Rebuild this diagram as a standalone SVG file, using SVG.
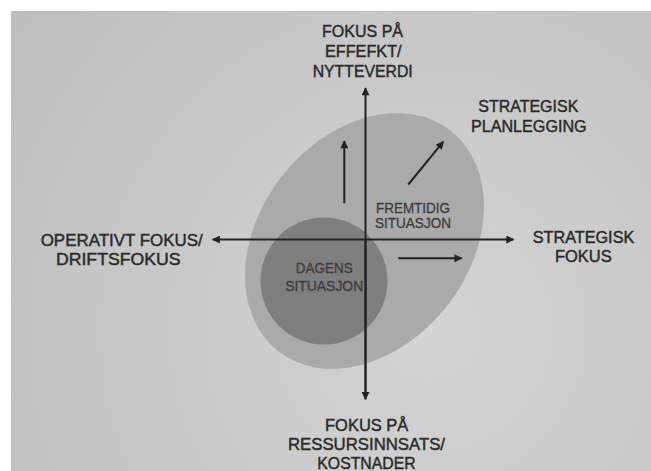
<svg xmlns="http://www.w3.org/2000/svg" width="651" height="471" viewBox="0 0 651 471">
  <style>
    .lbl { font-family: "Liberation Sans", Arial, sans-serif; font-size: 17px; fill: #2a2a2a; stroke: #2a2a2a; stroke-width: 0.45; text-anchor: middle; }
    .sm { font-family: "Liberation Sans", Arial, sans-serif; font-size: 14px; fill: #3c3c3c; stroke: #3c3c3c; stroke-width: 0.3; text-anchor: middle; }
    .ax { stroke: #222; stroke-width: 2; fill: none; }
  </style>
  <defs>
    <radialGradient id="bg" cx="430" cy="330" r="560" gradientUnits="userSpaceOnUse">
      <stop offset="0" stop-color="#d4d4d4"/>
      <stop offset="1" stop-color="#bcbcbc"/>
    </radialGradient>
    <marker id="ah" viewBox="0 0 10 10" refX="9" refY="5" markerWidth="9" markerHeight="8" markerUnits="userSpaceOnUse" orient="auto">
      <path d="M0,0 L10,5 L0,10 Z" fill="#222"/>
    </marker>
  </defs>
  <rect x="0" y="0" width="651" height="471" fill="#ffffff"/>
  <rect x="11" y="11" width="640" height="460" fill="url(#bg)"/>

  <g id="fremtidig">
    <ellipse cx="364.5" cy="241" rx="140" ry="105" transform="rotate(-52 364.5 241)" fill="#aaaaaa"/>
    <text class="sm" x="413" y="212.7" textLength="74" lengthAdjust="spacingAndGlyphs">FREMTIDIG</text>
    <text class="sm" x="413" y="228" textLength="76" lengthAdjust="spacingAndGlyphs">SITUASJON</text>
  </g>
  <g id="dagens">
    <circle cx="324" cy="281" r="63.5" fill="#7e7e7e"/>
    <text class="sm" x="324.2" y="273.3" textLength="57" lengthAdjust="spacingAndGlyphs">DAGENS</text>
    <text class="sm" x="324.2" y="291" textLength="78" lengthAdjust="spacingAndGlyphs">SITUASJON</text>
  </g>

  <g id="connectors">
    <line class="ax" x1="365.5" y1="399" x2="365.5" y2="88" marker-end="url(#ah)"/>
    <line class="ax" x1="365.5" y1="239.5" x2="365.5" y2="399.3" marker-end="url(#ah)"/>
    <line class="ax" x1="365.5" y1="239.5" x2="513.5" y2="239.5" marker-end="url(#ah)"/>
    <line class="ax" x1="365.5" y1="239.5" x2="212.7" y2="239.5" marker-end="url(#ah)"/>
    <line class="ax" x1="344.3" y1="203.3" x2="344.3" y2="141" marker-end="url(#ah)"/>
    <line class="ax" x1="408.3" y1="184.5" x2="443.3" y2="141.7" marker-end="url(#ah)"/>
    <line class="ax" x1="398.3" y1="258.3" x2="461.7" y2="258.3" marker-end="url(#ah)"/>
  </g>

  <g id="top-label">
    <text class="lbl" x="362.5" y="36.5" textLength="81" lengthAdjust="spacingAndGlyphs">FOKUS PÅ</text>
    <text class="lbl" x="363.3" y="56.7" textLength="76.7" lengthAdjust="spacingAndGlyphs">EFFEFKT/</text>
    <text class="lbl" x="362.7" y="76.7" textLength="100" lengthAdjust="spacingAndGlyphs">NYTTEVERDI</text>
  </g>
  <g id="strategisk-planlegging">
    <text class="lbl" x="528.3" y="112.3" textLength="100" lengthAdjust="spacingAndGlyphs">STRATEGISK</text>
    <text class="lbl" x="528.8" y="131.7" textLength="115.7" lengthAdjust="spacingAndGlyphs">PLANLEGGING</text>
  </g>
  <g id="left-label">
    <text class="lbl" x="121.7" y="245.7" textLength="162" lengthAdjust="spacingAndGlyphs">OPERATIVT FOKUS/</text>
    <text class="lbl" x="118.3" y="265" textLength="124.7" lengthAdjust="spacingAndGlyphs">DRIFTSFOKUS</text>
  </g>
  <g id="right-label">
    <text class="lbl" x="583.5" y="242.7" textLength="101.6" lengthAdjust="spacingAndGlyphs">STRATEGISK</text>
    <text class="lbl" x="583.3" y="261.7" textLength="56.7" lengthAdjust="spacingAndGlyphs">FOKUS</text>
  </g>
  <g id="bottom-label">
    <text class="lbl" x="366.7" y="430.5" textLength="83.3" lengthAdjust="spacingAndGlyphs">FOKUS PÅ</text>
    <text class="lbl" x="366.5" y="450" textLength="157" lengthAdjust="spacingAndGlyphs">RESSURSINNSATS/</text>
    <text class="lbl" x="366.5" y="468.5" textLength="98.4" lengthAdjust="spacingAndGlyphs">KOSTNADER</text>
  </g>
</svg>
